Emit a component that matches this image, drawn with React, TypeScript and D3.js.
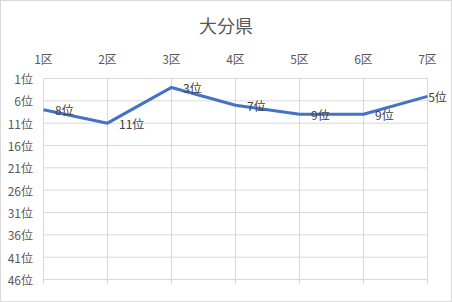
import React from "react";
import * as d3 from "d3";

const categories = ["1区", "2区", "3区", "4区", "5区", "6区", "7区"];
const ranks = [8, 11, 3, 7, 9, 9, 5];
const rankTicks = [1, 6, 11, 16, 21, 26, 31, 36, 41, 46];
const title = "大分県";

const W = 452;
const H = 302;
const FONT = "'Noto Sans CJK JP', 'Noto Sans', sans-serif";
const TEXT = "#595959";
const GRID = "#d9d9d9";

export default function App() {
  const x = d3.scalePoint<string>().domain(categories).range([43.5, 427.5]);
  const y = d3.scaleLinear().domain([1, 46]).range([78.5, 279.5]);
  const line = d3
    .line<number>()
    .x((_, i) => x(categories[i]) as number)
    .y((d) => y(d));

  return (
    <svg
      width={W}
      height={H}
      style={{ position: "absolute", left: 0, top: 0 }}
      fontFamily={FONT}
    >
      <rect x={0.5} y={0.5} width={W - 1} height={H - 1} fill="#fff" stroke={GRID} />
      <text x={W / 2} y={25} textAnchor="middle" dominantBaseline="central" fontSize={18} fill={TEXT}>
        {title}
      </text>
      {rankTicks.map((t) => (
        <g key={t}>
          <line x1={43.5} x2={427.5} y1={y(t)} y2={y(t)} stroke={GRID} strokeWidth={1} />
          <text x={33} y={y(t)} textAnchor="end" dominantBaseline="central" fontSize={12} fill={TEXT}>
            {t}位
          </text>
        </g>
      ))}
      {categories.map((c) => (
        <g key={c}>
          <line x1={x(c)} x2={x(c)} y1={y(1)} y2={y(46) + 5} stroke={GRID} strokeWidth={1} />
          <text x={x(c)} y={58} textAnchor="middle" dominantBaseline="central" fontSize={12} fill={TEXT}>
            {c}
          </text>
        </g>
      ))}
      <path d={line(ranks) || ""} fill="none" stroke="#4472C4" strokeWidth={3} strokeLinejoin="round" />
      {ranks.map((r, i) => {
        const label = `${r}位`;
        const w = String(r).length * 6.8 + 12;
        const px = (x(categories[i]) as number) + 11.5;
        const lx = Math.min(px, W - 5 - w);
        return (
          <text key={i} x={lx} y={y(r)} dominantBaseline="central" fontSize={12} fill="#404040">
            {label}
          </text>
        );
      })}
    </svg>
  );
}
